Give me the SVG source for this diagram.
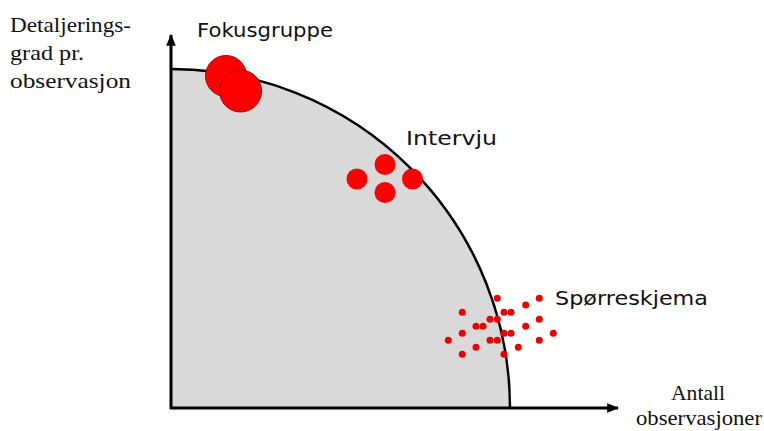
<svg xmlns="http://www.w3.org/2000/svg" width="764" height="431" viewBox="0 0 764 431">
<defs>
<style>
.lbl{font-family:"Liberation Serif","Times New Roman",serif;font-size:21px;fill:#111}
.cat{font-family:"DejaVu Sans","Noto Sans",sans-serif;font-size:20px;fill:#111}
.big{fill:#ff0000;stroke:#b00000;stroke-width:1}
.mid{fill:#ff0000}
.dot{fill:#ee0000}
.axis{stroke:#000;stroke-width:3;fill:none}
</style>
<marker id="arr" viewBox="0 0 10 10" refX="9" refY="5" markerWidth="4" markerHeight="4" orient="auto" markerUnits="strokeWidth">
<path d="M0,1 L10,5 L0,9 z" fill="#000"/>
</marker>
</defs>
<rect width="764" height="431" fill="#fff"/>
<g id="region">
<path d="M171,408 L171,69 A339,339 0 0 1 510,408 Z" fill="#d9d9d9" stroke="none"/>
<path d="M171,69 A339,339 0 0 1 510,408" fill="none" stroke="#000" stroke-width="2.5"/>
</g>
<g id="connectors">
<line class="axis" x1="171" y1="409" x2="171" y2="35" marker-end="url(#arr)"/>
<line class="axis" x1="170" y1="408" x2="618" y2="408" marker-end="url(#arr)"/>
</g>
<g id="ylabel">
<text class="lbl" x="10" y="32" textLength="121" lengthAdjust="spacingAndGlyphs">Detaljerings-</text>
<text class="lbl" x="10" y="60" textLength="74" lengthAdjust="spacingAndGlyphs">grad pr.</text>
<text class="lbl" x="10" y="88" textLength="121" lengthAdjust="spacingAndGlyphs">observasjon</text>
</g>
<g id="xlabel">
<text class="lbl" x="671" y="400" textLength="54" lengthAdjust="spacingAndGlyphs">Antall</text>
<text class="lbl" x="636" y="425" textLength="126" lengthAdjust="spacingAndGlyphs">observasjoner</text>
</g>
<g id="fokusgruppe">
<text class="cat" x="197" y="37" textLength="136" lengthAdjust="spacingAndGlyphs">Fokusgruppe</text>
<circle class="big" cx="226" cy="76" r="20.5"/>
<circle class="big" cx="240.5" cy="91" r="21"/>
</g>
<g id="intervju">
<text class="cat" x="406" y="145" textLength="91" lengthAdjust="spacingAndGlyphs">Intervju</text>
<circle class="mid" cx="385" cy="164.5" r="10.5"/>
<circle class="mid" cx="357" cy="179" r="10.5"/>
<circle class="mid" cx="385" cy="192.5" r="10.5"/>
<circle class="mid" cx="412.5" cy="179" r="10.5"/>
</g>
<g id="sporreskjema">
<text class="cat" x="555" y="305" textLength="153" lengthAdjust="spacingAndGlyphs">Spørreskjema</text>
<circle class="dot" cx="497.3" cy="298.3" r="3.5"/>
<circle class="dot" cx="539.3" cy="298.3" r="3.5"/>
<circle class="dot" cx="525.7" cy="305" r="3.5"/>
<circle class="dot" cx="462.3" cy="312.3" r="3.5"/>
<circle class="dot" cx="504" cy="312.3" r="3.5"/>
<circle class="dot" cx="511" cy="312.3" r="3.5"/>
<circle class="dot" cx="490" cy="319.3" r="3.5"/>
<circle class="dot" cx="497.3" cy="319.3" r="3.5"/>
<circle class="dot" cx="539.3" cy="319.3" r="3.5"/>
<circle class="dot" cx="476" cy="326.3" r="3.5"/>
<circle class="dot" cx="483" cy="326.3" r="3.5"/>
<circle class="dot" cx="525.7" cy="326.3" r="3.5"/>
<circle class="dot" cx="462.3" cy="333.3" r="3.5"/>
<circle class="dot" cx="504" cy="333.3" r="3.5"/>
<circle class="dot" cx="511" cy="333.3" r="3.5"/>
<circle class="dot" cx="553.3" cy="333.3" r="3.5"/>
<circle class="dot" cx="448.3" cy="340.3" r="3.5"/>
<circle class="dot" cx="490" cy="340.3" r="3.5"/>
<circle class="dot" cx="497.3" cy="340.3" r="3.5"/>
<circle class="dot" cx="539.3" cy="340.3" r="3.5"/>
<circle class="dot" cx="476" cy="347.3" r="3.5"/>
<circle class="dot" cx="518.3" cy="347.3" r="3.5"/>
<circle class="dot" cx="462.3" cy="354.3" r="3.5"/>
<circle class="dot" cx="504" cy="354.3" r="3.5"/>
</g>
</svg>
